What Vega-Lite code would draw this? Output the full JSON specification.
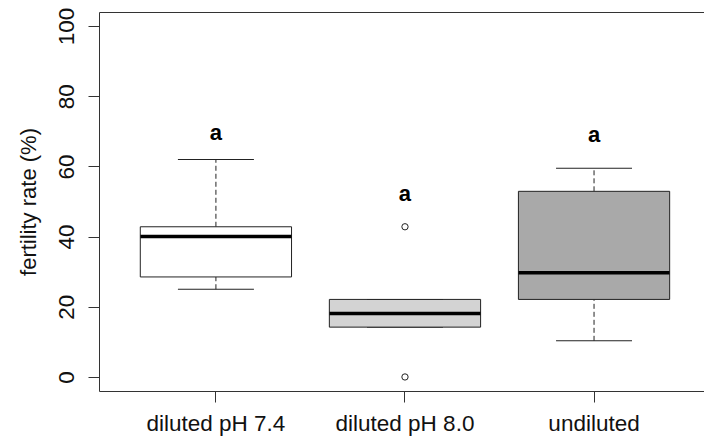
{
  "$schema": "https://vega.github.io/schema/vega-lite/v6.json",
  "width": 605,
  "height": 379,
  "autosize": {"type": "none"},
  "padding": {"left": 99, "top": 12, "right": 0, "bottom": 50},
  "background": "white",
  "datasets": {
    "boxes": [
      {"group": "diluted pH 7.4", "lower": 25, "q1": 28.5, "median": 40, "q3": 42.8, "upper": 62, "letter": "a", "letter_y": 67.4},
      {"group": "diluted pH 8.0", "lower": 14.2, "q1": 14.2, "median": 18.1, "q3": 22.1, "upper": 22.1, "letter": "a", "letter_y": 50.1},
      {"group": "undiluted", "lower": 10.3, "q1": 22.1, "median": 29.7, "q3": 52.9, "upper": 59.5, "letter": "a", "letter_y": 67}
    ],
    "outliers": [
      {"group": "diluted pH 8.0", "value": 42.8},
      {"group": "diluted pH 8.0", "value": 0}
    ]
  },
  "data": {"name": "boxes"},
  "encoding": {
    "x": {
      "field": "group",
      "type": "nominal",
      "sort": ["diluted pH 7.4", "diluted pH 8.0", "undiluted"],
      "scale": {"type": "band", "paddingInner": 0.2, "paddingOuter": 0.2, "align": 0.546},
      "axis": {
        "title": null,
        "domain": false,
        "labelAngle": 0,
        "bandPosition": 0.5,
        "tickSize": 11,
        "tickColor": "#333",
        "labelFont": "Liberation Sans",
        "labelFontSize": 22.5,
        "labelColor": "#111",
        "labelPadding": 10,
        "labelBaseline": "top"
      }
    }
  },
  "layer": [
    {
      "mark": {"type": "rule", "stroke": "#222", "strokeWidth": 1, "strokeDash": [5, 3]},
      "encoding": {
        "y": {"field": "q3", "type": "quantitative", "scale": {"domain": [-4, 104], "nice": false, "zero": false},
          "axis": {
            "title": "fertility rate (%)",
            "values": [0, 20, 40, 60, 80, 100],
            "domain": false,
            "grid": false,
            "tickSize": 11,
            "tickColor": "#333",
            "labelAngle": -90,
            "labelAlign": "center",
            "labelBaseline": "alphabetic",
            "labelPadding": 15,
            "labelFont": "Liberation Sans",
            "labelFontSize": 22.5,
            "labelColor": "#111",
            "titleFont": "Liberation Sans",
            "titleFontSize": 22,
            "titleFontWeight": "normal",
            "titleColor": "#111",
            "titlePadding": 15
          }},
        "y2": {"field": "upper"}
      }
    },
    {
      "mark": {"type": "rule", "stroke": "#222", "strokeWidth": 1, "strokeDash": [5, 3]},
      "encoding": {
        "y": {"field": "lower", "type": "quantitative"},
        "y2": {"field": "q1"}
      }
    },
    {
      "mark": {"type": "tick", "color": "#222", "opacity": 1, "size": 76, "thickness": 1, "orient": "horizontal"},
      "encoding": {"y": {"field": "upper", "type": "quantitative"}}
    },
    {
      "mark": {"type": "tick", "color": "#222", "opacity": 1, "size": 76, "thickness": 1, "orient": "horizontal"},
      "encoding": {"y": {"field": "lower", "type": "quantitative"}}
    },
    {
      "mark": {"type": "bar", "stroke": "#222", "strokeWidth": 1, "opacity": 1},
      "encoding": {
        "y": {"field": "q1", "type": "quantitative"},
        "y2": {"field": "q3"},
        "fill": {
          "field": "group",
          "type": "nominal",
          "scale": {"domain": ["diluted pH 7.4", "diluted pH 8.0", "undiluted"], "range": ["#ffffff", "#d3d3d3", "#a9a9a9"]},
          "legend": null
        }
      }
    },
    {
      "mark": {"type": "tick", "color": "#000", "opacity": 1, "size": 151, "thickness": 3.5, "orient": "horizontal"},
      "encoding": {"y": {"field": "median", "type": "quantitative"}}
    },
    {
      "data": {"name": "outliers"},
      "mark": {"type": "point", "shape": "circle", "filled": false, "stroke": "#222", "strokeWidth": 1, "size": 40, "opacity": 1},
      "encoding": {
        "x": {"field": "group", "type": "nominal", "sort": ["diluted pH 7.4", "diluted pH 8.0", "undiluted"]},
        "y": {"field": "value", "type": "quantitative"}
      }
    },
    {
      "mark": {"type": "text", "font": "Liberation Sans", "fontWeight": "bold", "fontSize": 22, "color": "#000", "baseline": "alphabetic", "align": "center"},
      "encoding": {
        "y": {"field": "letter_y", "type": "quantitative"},
        "text": {"field": "letter"}
      }
    }
  ],
  "config": {
    "view": {"stroke": "#333", "strokeWidth": 1}
  }
}
